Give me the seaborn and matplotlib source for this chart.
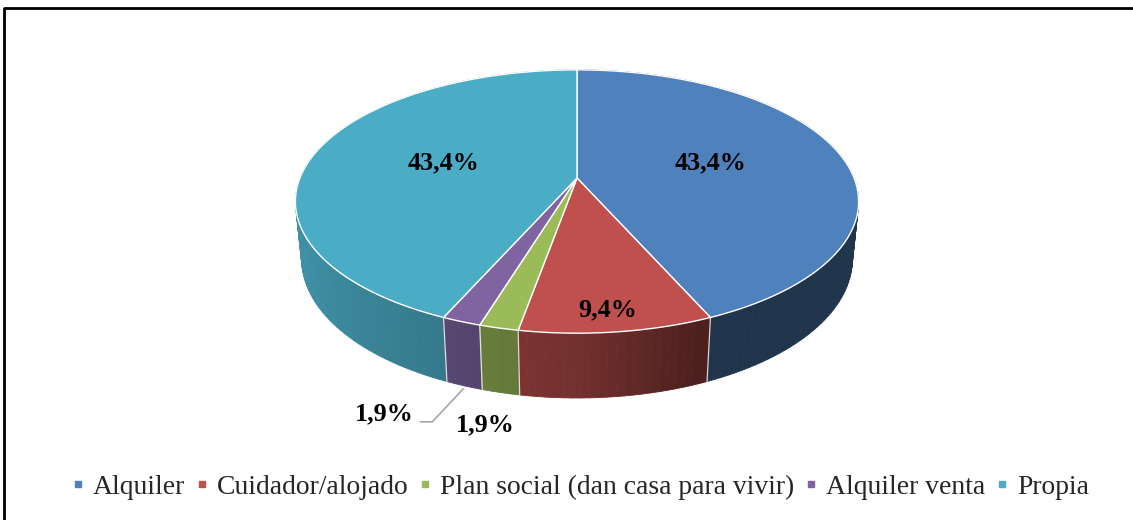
import numpy as np
import matplotlib as mpl
mpl.use("Agg")
import matplotlib.pyplot as plt
from matplotlib.patches import Polygon
from matplotlib.lines import Line2D
import seaborn as sns

# data
categories = ["Alquiler", "Cuidador/alojado", "Plan social (dan casa para vivir)",
              "Alquiler venta", "Propia"]
values = [43.4, 9.4, 1.9, 1.9, 43.4]
colors = ["#4F81BD", "#C0504D", "#9BBB59", "#8064A2", "#4BACC6"]

# label placement: (radius on top face, or None = outside), pixel offsets
label_style = [
    dict(r=0.5, dx=0, dy=-2),
    dict(r=0.86, dx=-3, dy=3),
    dict(r=None, dx=-15, dy=32),
    dict(r=None, dx=-80, dy=28),
    dict(r=0.5, dx=0, dy=-2),
]

# 3d projection parameters (pixel space)
W, H = 1133, 520
CX, CY = 577, 178
FOCAL = 1377.0
CAM_D = 4.97
ELEV = np.arcsin(0.46)
DEPTH = 0.236


def proj(theta_deg, r=1.0, z=0.0):
    t = np.radians(theta_deg)
    X = r * np.sin(t)
    Y = r * np.cos(t)
    d = CAM_D + Y * np.cos(ELEV) - z * np.sin(ELEV)
    sx = FOCAL * X / d
    sy = FOCAL * (Y * np.sin(ELEV) + z * np.cos(ELEV)) / d
    return CX + sx, CY - sy


def view_depth(theta_deg):
    t = np.radians(theta_deg)
    return CAM_D + np.cos(t) * np.cos(ELEV)


def shade(hex_color, theta_deg):
    x = np.sin(np.radians(theta_deg))
    f = 0.6 - 0.25 * min(x, 0) - 0.55 * max(x, 0)
    f = np.clip(f, 0.4, 1.0)
    rgb = np.array(mpl.colors.to_rgb(hex_color)) * f
    return tuple(rgb)


sns.set_theme(style="white")
plt.rcParams["font.family"] = ["Liberation Serif", "DejaVu Serif"]

fig = plt.figure(figsize=(W / 100, H / 100), dpi=100)
ax = fig.add_axes([0, 0, 1, 1])
ax.set_xlim(0, W)
ax.set_ylim(H, 0)
ax.axis("off")

fracs = np.array(values) / np.sum(values)
ends = np.cumsum(fracs) * 360
starts = ends - fracs * 360

# side walls, far to near
quads = []
for i, (a0, a1) in enumerate(zip(starts, ends)):
    n = max(int((a1 - a0) / 1.5), 2)
    angs = np.linspace(a0, a1, n + 1)
    for b0, b1 in zip(angs[:-1], angs[1:]):
        pts = [proj(b0), proj(b1), proj(b1, z=-DEPTH), proj(b0, z=-DEPTH)]
        mid = (b0 + b1) / 2
        quads.append((view_depth(mid), pts, shade(colors[i], mid)))
quads.sort(key=lambda q: -q[0])
for _, pts, col in quads:
    ax.add_patch(Polygon(pts, closed=True, facecolor=col, edgecolor=col,
                         lw=0.6, zorder=1))

# slice separators on the walls
for a in starts:
    (x0, y0), (x1, y1) = proj(a), proj(a, z=-DEPTH)
    ax.plot([x0, x1], [y0, y1], color="white", lw=0.9, alpha=0.8, zorder=1.5)

# top face
for i, (a0, a1) in enumerate(zip(starts, ends)):
    angs = np.linspace(a0, a1, max(int((a1 - a0) / 0.5), 2) + 1)
    pts = [(CX, CY)] + [proj(a) for a in angs]
    ax.add_patch(Polygon(pts, closed=True, facecolor=colors[i],
                         edgecolor="white", lw=1.0, joinstyle="round", zorder=2))

# labels
for i, (a0, a1) in enumerate(zip(starts, ends)):
    mid = (a0 + a1) / 2
    st = label_style[i]
    txt = f"{values[i]:.1f}%".replace(".", ",")
    if st["r"] is not None:
        x, y = proj(mid, r=st["r"])
    else:
        x, y = proj(mid, z=-DEPTH)
    ax.text(x + st["dx"], y + st["dy"], txt, ha="center", va="center",
            fontsize=18.8, fontweight="bold", color="black", zorder=3)

# leader line for the purple slice label
mid = (starts[3] + ends[3]) / 2
lx, ly = proj(mid, z=-DEPTH)
ax.plot([lx - 1, lx - 32, lx - 44], [ly + 3, ly + 36, ly + 36],
        color="#A6A6A6", lw=1.2, zorder=3, solid_joinstyle="miter")

# legend
handles = [Line2D([], [], marker="s", linestyle="none", markersize=5,
                  color=c) for c in colors]
ax.legend(handles, categories, loc="center", bbox_to_anchor=(581 / W, 1 - 487 / H),
          ncol=5, frameon=False, fontsize=19.9, handlelength=0.35,
          handletextpad=0.35, columnspacing=0.45, borderaxespad=0)

# chart border (left and top visible)
ax.plot([4, 4, W + 40], [H + 10, 8, 8], color="black", lw=2.0,
        clip_on=False, zorder=5)

fig.savefig("out.png", dpi=100)
